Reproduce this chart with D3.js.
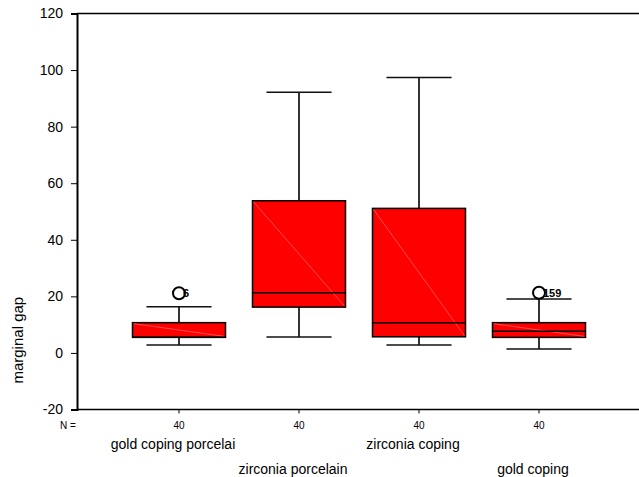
<!DOCTYPE html>
<html><head><meta charset="utf-8">
<script src="https://cdn.jsdelivr.net/npm/d3@7"></script>
<style>body{margin:0;background:#fff}svg{display:block}text{font-family:"Liberation Sans",Arial,sans-serif}</style>
</head><body><svg id="c" width="639" height="477"></svg>
<script>
const categories = ["gold coping porcelai", "zirconia porcelain", "zirconia coping", "gold coping"];
const nValues = [40, 40, 40, 40];
const whiskerLow = [2.8, 5.6, 2.8, 1.4];
const q1 = [5.5, 16.2, 5.7, 5.5];
const median = [5.5, 21.3, 10.7, 7.7];
const q3 = [10.7, 53.8, 51.1, 10.7];
const whiskerHigh = [16.3, 92.2, 97.4, 19.1];
const outliers = [[{v: 21.1, label: "6"}], [], [], [{v: 21.3, label: "159"}]];
const yTicks = [-20, 0, 20, 40, 60, 80, 100, 120];

(function () {
const svg = d3.select("#c");
const mLeft = 77, mRight = 641, mTop = 13.5, mBottom = 409.5;
const y = d3.scaleLinear().domain([-20, 120]).range([mBottom, mTop]);
const x = d3.scaleBand().domain(categories).range([mLeft, mRight]).paddingInner(0.225).paddingOuter(0.4625);
const bw = x.bandwidth();
const cx = c => x(c) + bw / 2;

// frame lines
svg.append("line").attr("x1", mLeft).attr("x2", 639).attr("y1", mTop).attr("y2", mTop).attr("stroke", "#000").attr("stroke-width", 1.5);
svg.append("line").attr("x1", mLeft).attr("x2", 639).attr("y1", mBottom).attr("y2", mBottom).attr("stroke", "#000").attr("stroke-width", 1.5);

// y axis
const ya = svg.append("g").attr("transform", `translate(${mLeft},0)`)
  .call(d3.axisLeft(y).tickValues(yTicks).tickSize(6).tickPadding(8).tickFormat(d => String(d)));
ya.attr("font-size", null).attr("font-family", null);
ya.select(".domain").attr("stroke-width", 2);
ya.selectAll(".tick line").attr("stroke-width", 1);
ya.selectAll(".tick text").style("font-size", "14px").attr("fill", "#000");

// y label
svg.append("text").attr("transform", `translate(23,${y(4.5)}) rotate(-90)`).attr("text-anchor", "middle")
  .style("font-size", "15px").text("marginal gap");

// bottom N ticks
categories.forEach((c, i) => {
  svg.append("line").attr("x1", cx(c)).attr("x2", cx(c)).attr("y1", mBottom).attr("y2", mBottom + 4).attr("stroke", "#000").attr("stroke-width", 1);
  svg.append("text").attr("x", cx(c)).attr("y", 429).attr("text-anchor", "middle").style("font-size", "10px").text(nValues[i]);
  svg.append("text").attr("x", cx(c) - 6).attr("y", i % 2 === 0 ? 449 : 474).attr("text-anchor", "middle").style("font-size", "14px").text(c);
});
svg.append("text").attr("x", 60).attr("y", 429).style("font-size", "10px").text("N =");

// boxes
categories.forEach((c, i) => {
  const g = svg.append("g");
  const xc = cx(c), capW = bw * 0.7;
  g.append("line").attr("x1", xc).attr("x2", xc).attr("y1", y(whiskerHigh[i])).attr("y2", y(q3[i])).attr("stroke", "#333").attr("stroke-width", 2);
  g.append("line").attr("x1", xc).attr("x2", xc).attr("y1", y(q1[i])).attr("y2", y(whiskerLow[i])).attr("stroke", "#333").attr("stroke-width", 2);
  g.append("line").attr("x1", xc - capW / 2).attr("x2", xc + capW / 2).attr("y1", y(whiskerHigh[i])).attr("y2", y(whiskerHigh[i])).attr("stroke", "#111").attr("stroke-width", 1.5);
  g.append("line").attr("x1", xc - capW / 2).attr("x2", xc + capW / 2).attr("y1", y(whiskerLow[i])).attr("y2", y(whiskerLow[i])).attr("stroke", "#111").attr("stroke-width", 1.5);
  g.append("rect").attr("x", x(c)).attr("y", y(q3[i])).attr("width", bw).attr("height", y(q1[i]) - y(q3[i]))
    .attr("fill", "#ff0000").attr("stroke", "#000").attr("stroke-width", 1.5);
  g.append("line").attr("x1", x(c) + 1).attr("y1", y(q3[i]) + 1).attr("x2", x(c) + bw - 1).attr("y2", y(q1[i]) - 1)
    .attr("stroke", "#ff8080").attr("stroke-width", 0.6);
  g.append("line").attr("x1", x(c)).attr("x2", x(c) + bw).attr("y1", y(median[i])).attr("y2", y(median[i])).attr("stroke", "#000").attr("stroke-width", 1.5);
  outliers[i].forEach(o => {
    g.append("text").attr("x", xc + 4).attr("y", y(o.v) + 4).style("font-size", "11px").attr("font-weight", "bold").text(o.label);
    g.append("circle").attr("cx", xc).attr("cy", y(o.v)).attr("r", 6).attr("fill", "none").attr("stroke", "#000").attr("stroke-width", 2);
  });
});
})();
</script></body></html>
